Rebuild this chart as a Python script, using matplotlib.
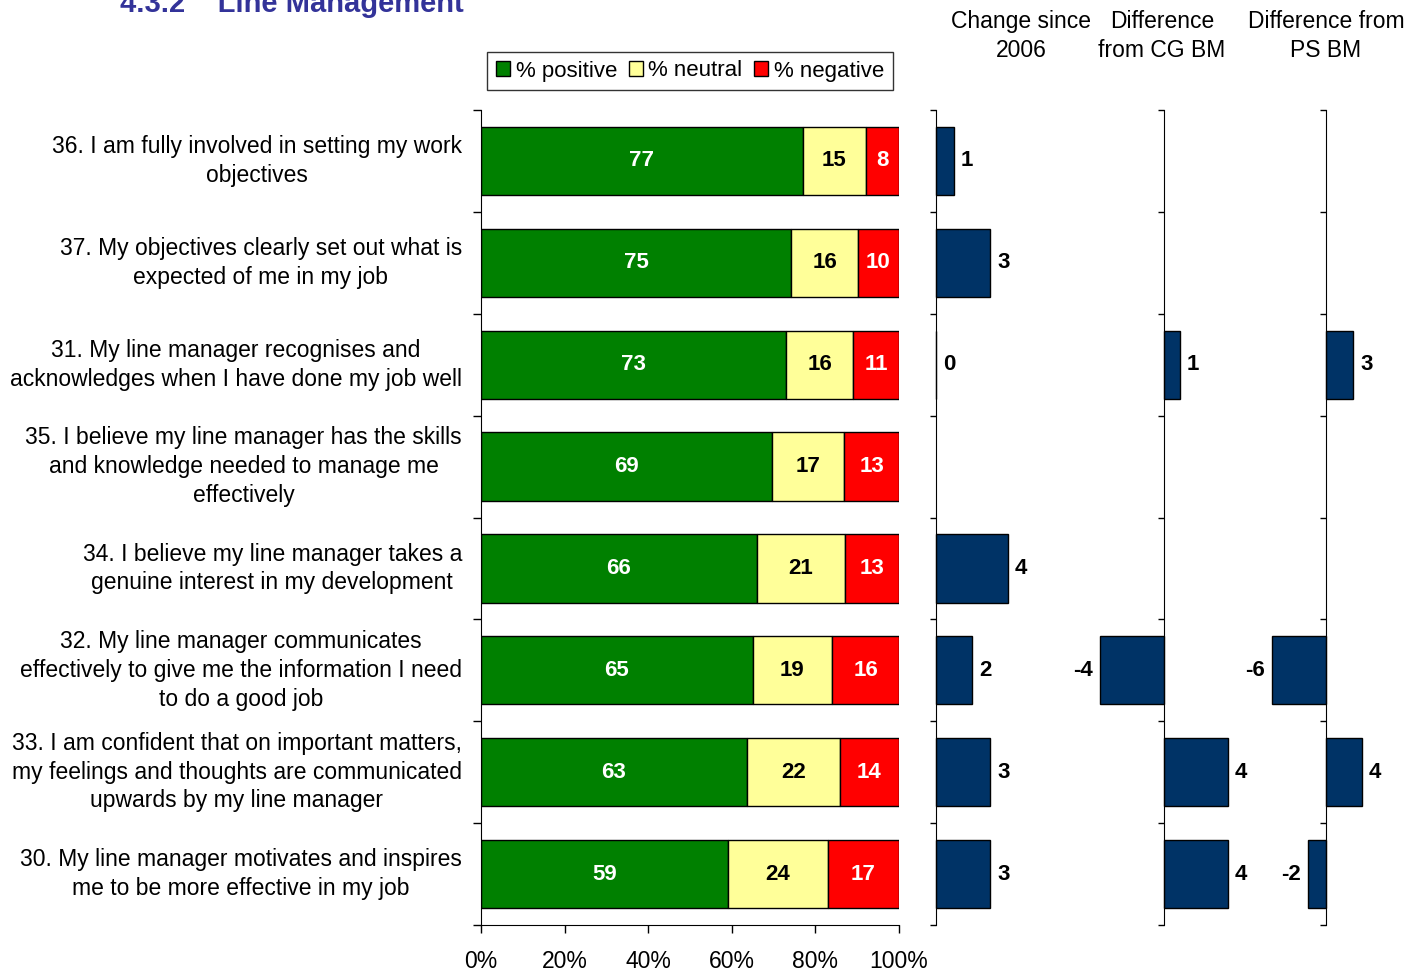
import matplotlib
matplotlib.use("Agg")
import matplotlib.pyplot as plt
import numpy as np

plt.rcParams['font.family'] = ['Liberation Sans', 'DejaVu Sans']

questions = [
    "36. I am fully involved in setting my work\nobjectives",
    "37. My objectives clearly set out what is\nexpected of me in my job",
    "31. My line manager recognises and\nacknowledges when I have done my job well",
    "35. I believe my line manager has the skills\nand knowledge needed to manage me\neffectively",
    "34. I believe my line manager takes a\ngenuine interest in my development",
    "32. My line manager communicates\neffectively to give me the information I need\nto do a good job",
    "33. I am confident that on important matters,\nmy feelings and thoughts are communicated\nupwards by my line manager",
    "30. My line manager motivates and inspires\nme to be more effective in my job",
]
positive = [77, 75, 73, 69, 66, 65, 63, 59]
neutral = [15, 16, 16, 17, 21, 19, 22, 24]
negative = [8, 10, 11, 13, 13, 16, 14, 17]

# comparison columns (None = no bar shown)
change_2006 = [1, 3, 0, None, 4, 2, 3, 3]
diff_cg = [None, None, 1, None, None, -4, 4, 4]
diff_ps = [None, None, 3, None, None, -6, 4, -2]

panel_titles = ["Change since\n2006", "Difference\nfrom CG BM", "Difference from\nPS BM"]

GREEN = '#008000'
YELLOW = '#FFFF99'
RED = '#FF0000'
NAVY = '#003366'

FS = 16.5      # body text
FS_VAL = 16    # bold value labels

W, H = 1420, 971
fig = plt.figure(figsize=(W / 100, H / 100), dpi=100)


def px_axes(x0, x1, y_top, y_bot):
    return fig.add_axes([x0 / W, 1 - y_bot / H, (x1 - x0) / W, (y_bot - y_top) / H])


n = len(questions)
y = np.arange(n)
pos = np.array(positive, float)
neu = np.array(neutral, float)
neg = np.array(negative, float)
tot = pos + neu + neg
p_pos, p_neu, p_neg = pos / tot * 100, neu / tot * 100, neg / tot * 100

ax = px_axes(481, 899, 110, 925)
bar_h = 0.67
b1 = ax.barh(y, p_pos, height=bar_h, color=GREEN, edgecolor='black', linewidth=1.0, label='% positive')
b2 = ax.barh(y, p_neu, left=p_pos, height=bar_h, color=YELLOW, edgecolor='black', linewidth=1.0, label='% neutral')
b3 = ax.barh(y, p_neg, left=p_pos + p_neu, height=bar_h, color=RED, edgecolor='black', linewidth=1.0, label='% negative')

for i in range(n):
    ax.text(p_pos[i] / 2, y[i], f"{positive[i]}", ha='center', va='center',
            color='white', fontweight='bold', fontsize=FS_VAL)
    ax.text(p_pos[i] + p_neu[i] / 2, y[i], f"{neutral[i]}", ha='center', va='center',
            color='black', fontweight='bold', fontsize=FS_VAL)
    ax.text(p_pos[i] + p_neu[i] + p_neg[i] / 2, y[i], f"{negative[i]}", ha='center', va='center',
            color='white', fontweight='bold', fontsize=FS_VAL)

ax.set_xlim(0, 100)
ax.set_ylim(n - 0.5, -0.5)
ax.set_xticks(np.arange(0, 101, 20))
ax.set_xticklabels([f"{v}%" for v in range(0, 101, 20)], fontsize=FS)
ax.set_yticks(np.arange(-0.5, n, 1.0))
ax.set_yticklabels([])
ax.tick_params(axis='both', direction='out', length=6, width=1)
ax.tick_params(axis='x', pad=12)
for s in ['top', 'right']:
    ax.spines[s].set_visible(False)

for i, q in enumerate(questions):
    ax.annotate(q, xy=(0, y[i]), xycoords=('axes fraction', 'data'),
                xytext=(-19, 0), textcoords='offset pixels',
                ha='right', va='center', multialignment='center',
                fontsize=FS, linespacing=1.32)

fig.legend(handles=[b1, b2, b3], loc='center', bbox_to_anchor=(690 / W, 1 - 71 / H),
           ncol=3, fontsize=16, frameon=True, fancybox=False, edgecolor='black',
           handlelength=0.65, handleheight=0.65, handletextpad=0.25, columnspacing=0.5,
           borderpad=0.4, borderaxespad=0)

fig.text(120 / W, 1 - 4 / H, "4.3.2    Line Management", ha='left', va='center',
         fontsize=21, fontweight='bold', color='#333399')

# comparison panels: (values, zero x px, px per unit, header centre px)
panels = [
    (change_2006, 936, 18, 1021),
    (diff_cg, 1164, 16, 1162),
    (diff_ps, 1326, 9, 1326),
]
for (vals, x0, scale, hx), title in zip(panels, panel_titles):
    half = 140
    pax = px_axes(x0 - half, x0 + half, 110, 925)
    pax.set_xlim(-half / scale, half / scale)
    pax.set_ylim(n - 0.5, -0.5)
    pax.patch.set_alpha(0)
    for s in ['top', 'right', 'bottom']:
        pax.spines[s].set_visible(False)
    pax.spines['left'].set_position(('data', 0))
    pax.set_xticks([])
    pax.set_yticks(np.arange(-0.5, n, 1.0))
    pax.set_yticklabels([])
    pax.tick_params(axis='y', direction='out', length=4, width=1)
    for i, v in enumerate(vals):
        if v is None:
            continue
        pax.barh(y[i], v, height=bar_h, color=NAVY, edgecolor='black', linewidth=1.0)
        off = 7 if v >= 0 else -7
        pax.annotate(f"{v}", xy=(v, y[i]), xytext=(off, 0), textcoords='offset pixels',
                     ha='left' if v >= 0 else 'right', va='center',
                     fontsize=FS_VAL, fontweight='bold')
    fig.text(hx / W, 1 - 36 / H, title, ha='center', va='center',
             fontsize=FS, linespacing=1.32)

fig.savefig("out.png", dpi=100)
